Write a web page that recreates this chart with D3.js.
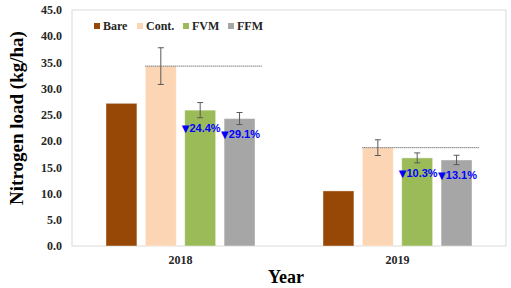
<!DOCTYPE html>
<html>
<head>
<meta charset="utf-8">
<script src="https://cdn.jsdelivr.net/npm/d3@7"></script>
<style>
  body { margin: 0; background: #fff; }
  text { font-family: "Liberation Serif", "Times New Roman", serif; font-weight: bold; }
  .pct { font-family: "Liberation Sans", Arial, sans-serif; }
</style>
</head>
<body>
<div id="chart"></div>
<script>
// data
const years = ["2018", "2019"];
const series = ["Bare", "Cont.", "FVM", "FFM"];
const colors = ["#974706", "#FCD5B5", "#9BBB59", "#A6A6A6"];
const bare = [27.2, 10.5];
const cont = [34.3, 18.75];
const fvm = [25.9, 16.8];
const ffm = [24.3, 16.4];
const contErr = [3.5, 1.5];
const fvmErr = [1.45, 0.95];
const ffmErr = [1.15, 0.9];
const fvmPct = ["24.4%", "10.3%"];
const ffmPct = ["29.1%", "13.1%"];
const yTicks = [0, 5, 10, 15, 20, 25, 30, 35, 40, 45];

const W = 511, H = 288;
const plot = { left: 72, right: 506, top: 10, bottom: 246 };

const svg = d3.select("#chart").append("svg")
  .attr("width", W).attr("height", H);

const y = d3.scaleLinear().domain([0, 45]).range([plot.bottom, plot.top]);
const x0 = d3.scaleBand().domain(years).range([plot.left, plot.right]).padding(0);
const x1 = d3.scaleBand().domain(series).range([34, 183]).paddingInner(0.215);

// plot area frame
svg.append("rect")
  .attr("x", plot.left).attr("y", plot.top)
  .attr("width", plot.right - plot.left).attr("height", plot.bottom - plot.top)
  .attr("fill", "none").attr("stroke", "#d9d9d9").attr("stroke-width", 1);

// y axis labels
svg.append("g").selectAll("text")
  .data(yTicks).enter().append("text")
  .attr("x", 62).attr("y", d => y(d))
  .attr("dy", "0.35em")
  .attr("text-anchor", "end")
  .attr("font-size", 12)
  .attr("fill", "#262626")
  .text(d => d.toFixed(1));

// x axis labels
svg.append("g").selectAll("text")
  .data(years).enter().append("text")
  .attr("x", d => x0(d) + x0.bandwidth() / 2)
  .attr("y", 264)
  .attr("text-anchor", "middle")
  .attr("font-size", 12)
  .attr("fill", "#262626")
  .text(d => d);

const rows = years.map((yr, i) => ({
  year: yr,
  vals: [bare[i], cont[i], fvm[i], ffm[i]],
  errs: [null, contErr[i], fvmErr[i], ffmErr[i]],
  pcts: [null, null, fvmPct[i], ffmPct[i]]
}));

const groups = svg.selectAll(".grp")
  .data(rows).enter().append("g")
  .attr("class", "grp")
  .attr("transform", d => "translate(" + x0(d.year) + ",0)");

// bars
groups.selectAll("rect")
  .data(d => d.vals.map((v, j) => ({ s: series[j], v: v, j: j })))
  .enter().append("rect")
  .attr("x", d => x1(d.s))
  .attr("y", d => y(d.v))
  .attr("width", x1.bandwidth())
  .attr("height", d => y(0) - y(d.v))
  .attr("fill", d => colors[d.j])
  .attr("stroke", "#ffffff").attr("stroke-opacity", 0.4).attr("stroke-width", 1);

// dotted reference line at Cont. level
groups.append("line")
  .attr("x1", x1("Cont."))
  .attr("x2", x1("FFM") + x1.bandwidth() + 7)
  .attr("y1", d => y(d.vals[1]))
  .attr("y2", d => y(d.vals[1]))
  .attr("stroke", "#404040").attr("stroke-width", 1)
  .attr("stroke-dasharray", "1,1");

// error bars
groups.each(function (d) {
  const g = d3.select(this);
  d.vals.forEach((v, j) => {
    if (d.errs[j] == null) return;
    const cx = x1(series[j]) + x1.bandwidth() / 2;
    const hi = y(v + d.errs[j]), lo = y(v - d.errs[j]);
    const e = g.append("g").attr("stroke", "#595959").attr("stroke-width", 1);
    e.append("line").attr("x1", cx).attr("x2", cx).attr("y1", hi).attr("y2", lo);
    e.append("line").attr("x1", cx - 3).attr("x2", cx + 3).attr("y1", hi).attr("y2", hi);
    e.append("line").attr("x1", cx - 3).attr("x2", cx + 3).attr("y1", lo).attr("y2", lo);
    if (d.pcts[j]) {
      const t = g.append("text")
        .attr("class", "pct")
        .attr("x", x1(series[j]) - 3)
        .attr("y", lo + 10)
        .attr("dy", "0.35em")
        .attr("font-size", 11)
        .attr("fill", "#0000ff");
      t.append("tspan")
        .attr("font-family", "DejaVu Sans")
        .attr("font-size", 10)
        .text("\u25BC");
      t.append("tspan").text(d.pcts[j]);
    }
  });
});

// legend
const legX = [94, 137, 183, 228];
const leg = svg.append("g").selectAll("g")
  .data(series).enter().append("g")
  .attr("transform", (d, i) => "translate(" + legX[i] + ",26)");
leg.append("rect")
  .attr("x", 0).attr("y", -3).attr("width", 6).attr("height", 6)
  .attr("fill", (d, i) => colors[i]);
leg.append("text")
  .attr("x", 9).attr("dy", "0.35em")
  .attr("font-size", 12)
  .attr("fill", "#262626")
  .text(d => d);

// axis titles
svg.append("text")
  .attr("transform", "translate(16,118) rotate(-90)")
  .attr("text-anchor", "middle")
  .attr("dy", "0.35em")
  .attr("font-size", 19)
  .attr("fill", "#000")
  .text("Nitrogen load (kg/ha)");

svg.append("text")
  .attr("x", 286).attr("y", 283)
  .attr("text-anchor", "middle")
  .attr("font-size", 18)
  .attr("fill", "#000")
  .text("Year");
</script>
</body>
</html>
